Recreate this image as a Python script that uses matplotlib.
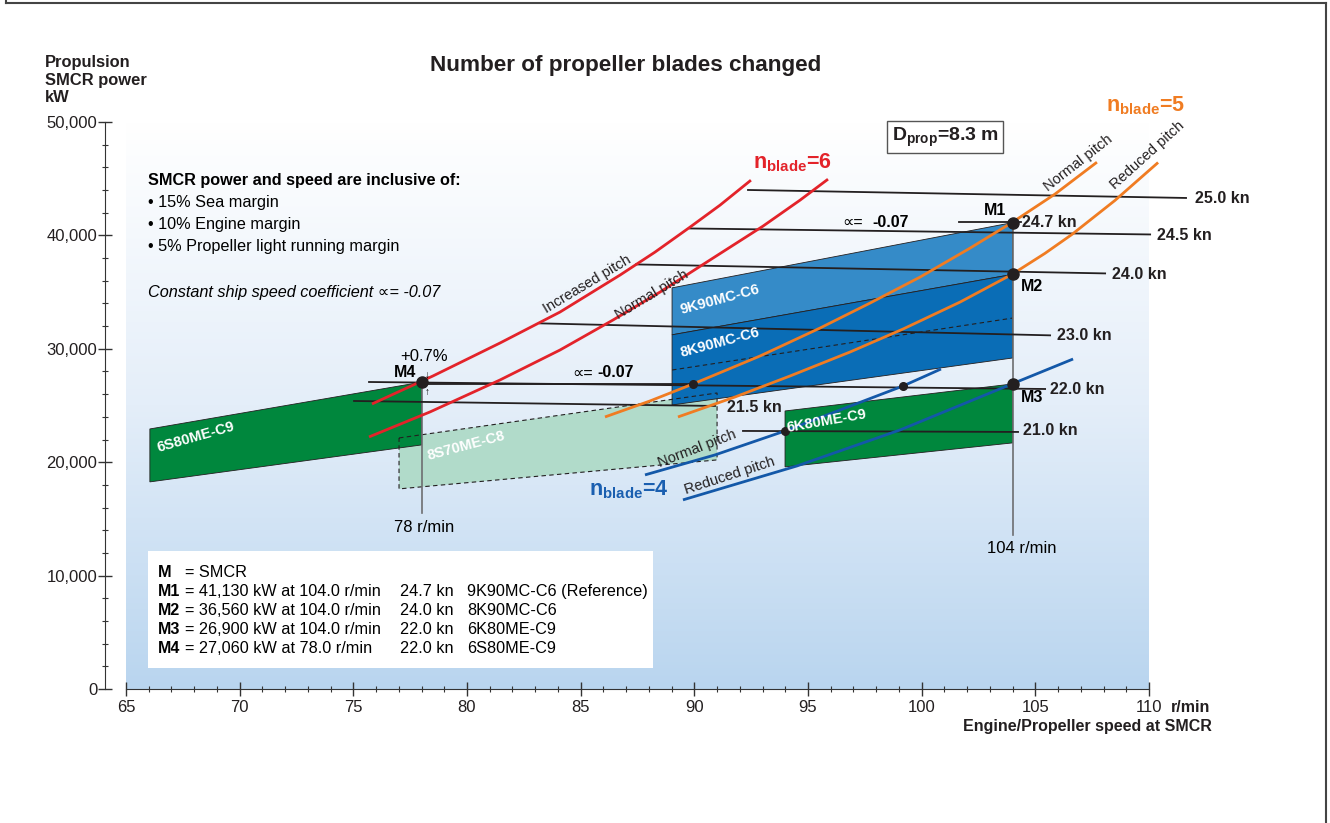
import numpy as np
import matplotlib
matplotlib.use("Agg")
import matplotlib.pyplot as plt
from matplotlib.lines import Line2D
from matplotlib.patches import Polygon
from matplotlib.colors import LinearSegmentedColormap
from matplotlib.ticker import MultipleLocator, FuncFormatter

plt.rcParams["font.family"] = ["Liberation Sans", "DejaVu Sans"]
plt.rcParams["mathtext.fontset"] = "custom"
plt.rcParams["mathtext.rm"] = "Liberation Sans"
plt.rcParams["mathtext.bf"] = "Liberation Sans:bold"
plt.rcParams["mathtext.it"] = "Liberation Sans:italic"

# ---- data (r/min, kW) ----
speed_labels = ["25.0 kn", "24.7 kn", "24.5 kn", "24.0 kn", "23.0 kn", "22.0 kn", "21.5 kn", "21.0 kn"]
speed_x0 = [92.36, 101.64, 89.81, 87.43, 83.21, 75.69, 75.03, 92.14]
speed_x1 = [111.63, 104.35, 110.05, 108.07, 105.65, 105.43, 90.91, 104.24]
speed_p0 = [44006, 41172, 40612, 37441, 32243, 27073, 25399, 22756]
speed_p1 = [43301, 41172, 40083, 36648, 31186, 26456, 24959, 22668]
speed_lab_x = [112.02, 104.41, 110.35, 108.37, 105.95, 105.65, 91.44, 104.46]
speed_lab_p = [43291, 41161, 40017, 36581, 31207, 26450, 24864, 22756]

# reference line at M3 power level (for the +0.7 % mark)
m3_level_x = [78.0, 89.94]
m3_level_p = [26900, 26900]

# n_blade = 6 (red)
red_inc_x = [75.82, 78.50, 81.45, 84.09, 86.73, 88.27, 89.81, 91.13, 92.49]
red_inc_p = [25135, 27602, 30509, 33240, 36500, 38527, 40729, 42667, 44869]
red_nor_x = [75.69, 78.37, 81.45, 84.09, 86.42, 88.49, 90.82, 93.02, 94.65, 95.88]
red_nor_p = [22228, 24430, 27249, 29892, 32536, 35003, 37998, 40817, 43108, 44957]
# n_blade = 5 (orange)
ora_nor_x = [86.07, 88.05, 89.94, 92.89, 95.53, 97.73, 99.93, 102.13, 103.97, 105.86, 107.71]
ora_nor_p = [23990, 25400, 26897, 29364, 31831, 34034, 36324, 38879, 41130, 43637, 46455]
ora_red_x = [89.28, 91.79, 94.21, 96.85, 99.18, 101.69, 103.97, 105.42, 106.61, 108.50, 110.40]
ora_red_p = [23990, 25752, 27602, 29717, 31743, 34122, 36560, 38411, 40085, 43080, 46428]
# n_blade = 4 (blue)
blu_nor_x = [87.83, 90.91, 93.99, 99.18, 100.85]
blu_nor_p = [18880, 20642, 22756, 26721, 28218]
blu_red_x = [89.50, 94.52, 99.05, 103.97, 106.66]
blu_red_p = [16677, 19673, 22844, 26900, 29099]

# engine layout areas
s80_x = [66.05, 78.0, 78.0, 66.05]
s80_p = [22932, 27060, 21523, 18263]
s70_x = [77.01, 91.0, 91.0, 77.01]
s70_p = [22139, 26104, 20202, 17646]
k90_9_x = [89.02, 104.0, 104.0, 89.02]
k90_9_p = [35375, 41130, 36560, 31234]
k90_8_x = [89.02, 104.0, 104.0, 89.02]
k90_8_p = [31234, 36560, 29190, 25047]
k90_dash_x = [89.02, 104.0]
k90_dash_p = [28130, 32711]
k80_x = [93.99, 104.0, 104.0, 93.99]
k80_p = [24518, 26900, 21702, 19588]

# SMCR points
m_names = ["M1", "M2", "M3", "M4"]
m_rpm = [104.0, 104.0, 104.0, 78.0]
m_kw = [41130, 36560, 26900, 27060]
small_dot_x = [89.94, 93.99, 99.18]
small_dot_p = [26897, 22756, 26721]

legend_rows = [
    ("M1", "= 41,130 kW at 104.0 r/min", "24.7 kn", "9K90MC-C6 (Reference)"),
    ("M2", "= 36,560 kW at 104.0 r/min", "24.0 kn", "8K90MC-C6"),
    ("M3", "= 26,900 kW at 104.0 r/min", "22.0 kn", "6K80ME-C9"),
    ("M4", "= 27,060 kW at 78.0 r/min", "22.0 kn", "6S80ME-C9"),
]

RED = "#e3232a"
ORANGE = "#f07c22"
BLUE = "#1358a8"
DGREEN = "#00873d"
LGREEN = "#b1dbca"
BLUE9 = "#358bc8"
BLUE8 = "#0a6db6"
BLK = "#231f20"

W, H = 1330, 823
fig = plt.figure(figsize=(W / 100, H / 100), dpi=100)
ax = fig.add_axes([126 / W, 1 - 689 / H, (1149 - 126) / W, (689 - 122) / H])
ax.set_xlim(65, 110)
ax.set_ylim(0, 50000)

# background gradient
grad = np.linspace(0, 1, 256).reshape(-1, 1)
cmap = LinearSegmentedColormap.from_list("bg", ["#b9d5ef", "#e4eef9", "#ffffff"])
ax.imshow(grad, extent=[65, 110, 0, 50000], origin="lower", aspect="auto",
          cmap=cmap, zorder=0)

# frame around page
for xs, ys in [([6, 6], [0, 3]), ([6, 1326], [3, 3]), ([1326, 1326], [3, H])]:
    fig.add_artist(Line2D([x / W for x in xs], [1 - y / H for y in ys],
                          color="#444444", lw=1.5, transform=fig.transFigure))

# axes styling
for s in ["top", "right"]:
    ax.spines[s].set_visible(False)
ax.spines["left"].set_position(("outward", 15))
ax.spines["left"].set_bounds(0, 50000)
ax.spines["left"].set_color("#333333")
ax.spines["bottom"].set_color("#333333")
ax.xaxis.set_major_locator(MultipleLocator(5))
ax.xaxis.set_minor_locator(MultipleLocator(1))
ax.yaxis.set_major_locator(MultipleLocator(10000))
ax.yaxis.set_minor_locator(MultipleLocator(2000))
ax.yaxis.set_major_formatter(FuncFormatter(lambda v, p: f"{int(v):,}"))
ax.tick_params(which="major", direction="inout", length=9.5, width=1, color="#333333",
               labelsize=12, labelcolor="#231f20")
ax.tick_params(which="minor", direction="inout", length=4.5, width=0.8, color="#333333")
ax.tick_params(axis="x", pad=3)
ax.tick_params(axis="y", pad=1)

# engine areas
ax.add_patch(Polygon(list(zip(s70_x, s70_p)), closed=True, fc=LGREEN, ec="none", zorder=1))
ax.add_patch(Polygon(list(zip(s80_x, s80_p)), closed=True, fc=DGREEN, ec=BLK, lw=0.6, zorder=2))
ax.add_patch(Polygon(list(zip(k90_9_x, k90_9_p)), closed=True, fc=BLUE9, ec=BLK, lw=0.6, zorder=2))
ax.add_patch(Polygon(list(zip(k90_8_x, k90_8_p)), closed=True, fc=BLUE8, ec=BLK, lw=0.6, zorder=2))
ax.add_patch(Polygon(list(zip(k80_x, k80_p)), closed=True, fc=DGREEN, ec=BLK, lw=0.6, zorder=2))
ax.add_patch(Polygon(list(zip(s70_x, s70_p)), closed=True, fc="none", ec=BLK, lw=0.8,
                     ls=(0, (4, 3)), zorder=3))
ax.plot(k90_dash_x, k90_dash_p, color=BLK, lw=0.8, ls=(0, (4, 3)), zorder=3)

# vertical speed marks
ax.plot([78, 78], [15533, 27060], color="#6d6e70", lw=1.2, zorder=3)
ax.plot([104, 104], [13600, 41130], color="#6d6e70", lw=1.2, zorder=3)

# constant ship speed lines
for x0, x1, p0, p1 in zip(speed_x0, speed_x1, speed_p0, speed_p1):
    ax.plot([x0, x1], [p0, p1], color=BLK, lw=1.3, zorder=4, clip_on=False)
ax.plot(m3_level_x, m3_level_p, color=BLK, lw=1.3, zorder=4)
for lab, lx, lp in zip(speed_labels, speed_lab_x, speed_lab_p):
    ax.text(lx, lp, lab, fontsize=11.5, fontweight="bold", color=BLK,
            ha="left", va="center", zorder=7, clip_on=False)

# propeller curves
for xs, ps, c in [(red_inc_x, red_inc_p, RED), (red_nor_x, red_nor_p, RED),
                  (ora_nor_x, ora_nor_p, ORANGE), (ora_red_x, ora_red_p, ORANGE),
                  (blu_nor_x, blu_nor_p, BLUE), (blu_red_x, blu_red_p, BLUE)]:
    ax.plot(xs, ps, color=c, lw=2, zorder=5, clip_on=False,
            solid_capstyle="butt", solid_joinstyle="round")

# points
ax.plot(m_rpm, m_kw, "o", color=BLK, ms=8, zorder=6)
ax.plot(small_dot_x, small_dot_p, "o", color=BLK, ms=5.5, zorder=6)

# curve labels
curve_labels = [
    ("Increased pitch", 85.28, 35681, 31), ("Normal pitch", 88.14, 34800, 31),
    ("Normal pitch", 106.88, 46360, 38), ("Reduced pitch", 109.91, 47065, 42),
    ("Normal pitch", 90.12, 21170, 21), ("Reduced pitch", 91.57, 18791, 18),
]
for t, x, p, r in curve_labels:
    ax.text(x, p, t, fontsize=10.5, color=BLK, rotation=r, rotation_mode="anchor",
            ha="center", va="center", zorder=7, clip_on=False)

engine_labels = [
    ("9K90MC-C6", 91.13, 34300, 15), ("8K90MC-C6", 91.13, 30512, 15),
    ("6S80ME-C9", 68.08, 22230, 16), ("8S70ME-C8", 79.96, 21437, 15),
    ("6K80ME-C9", 95.84, 23640, 10),
]
for t, x, p, r in engine_labels:
    ax.text(x, p, t, fontsize=10.5, fontweight="bold", color="white", rotation=r,
            rotation_mode="anchor", ha="center", va="center", zorder=7)

# M labels
ax.text(103.23, 42232, "M1", fontsize=11.5, fontweight="bold", ha="center", va="center", zorder=7)
ax.text(104.35, 35530, "M2", fontsize=11.5, fontweight="bold", ha="left", va="center", zorder=7)
ax.text(104.35, 25663, "M3", fontsize=11.5, fontweight="bold", ha="left", va="center", zorder=7)
ax.text(77.76, 27954, "M4", fontsize=11.5, fontweight="bold", ha="right", va="center", zorder=7)
ax.text(78.1, 29290, "+0.7%", fontsize=12, ha="center", va="center", zorder=7)
ax.text(78.25, 27720, "\u2193", fontsize=7, ha="center", va="center", zorder=7)
ax.text(78.25, 26150, "\u2191", fontsize=7, ha="center", va="center", zorder=7)
ax.text(78.1, 14210, "78 r/min", fontsize=12, ha="center", va="center", zorder=7)
ax.text(104.41, 12360, "104 r/min", fontsize=12, ha="center", va="center", zorder=7)

# alpha labels
for xa, xb, p in [(96.5, 97.82, 41172), (84.62, 85.72, 27866)]:
    ax.text(xa, p, "\u221d=", fontsize=11.5, ha="left", va="center", zorder=7)
    ax.text(xb, p, "-0.07", fontsize=11.5, fontweight="bold", ha="left", va="center", zorder=7)

# n_blade labels
ax.text(94.30, 46445, r"$\mathbf{n_{blade}}$=6", fontsize=15.5, fontweight="bold",
        color=RED, ha="center", va="center", zorder=7, clip_on=False)
ax.text(109.83, 51469, r"$\mathbf{n_{blade}}$=5", fontsize=15.5, fontweight="bold",
        color=ORANGE, ha="center", va="center", zorder=7, clip_on=False)
ax.text(87.13, 17558, r"$\mathbf{n_{blade}}$=4", fontsize=15.5, fontweight="bold",
        color="#1a5fb0", ha="center", va="center", zorder=7, clip_on=False)
ax.text(101.03, 48647, r"$\mathbf{D_{prop}}$=8.3 m", fontsize=14, fontweight="bold",
        color=BLK, ha="center", va="center", zorder=7, clip_on=False,
        bbox=dict(boxstyle="square,pad=0.22", fc="white", ec="#555555", lw=1))

# notes
ax.text(65.97, 44868, "SMCR power and speed are inclusive of:", fontsize=11.7,
        fontweight="bold", ha="left", va="center", zorder=7)
for i, t in enumerate(["\u2022 15% Sea margin", "\u2022 10% Engine margin",
                       "\u2022 5% Propeller light running margin"]):
    ax.text(65.97, 42930 - i * 1938, t, fontsize=11.7, ha="left", va="center", zorder=7)
ax.text(65.97, 35000, "Constant ship speed coefficient \u221d= -0.07", fontsize=11.7,
        style="italic", ha="left", va="center", zorder=7)

# legend box
ax.add_patch(plt.Rectangle((65.97, 1867), 88.18 - 65.97, 12187 - 1867, fc="white",
                           ec="none", zorder=6))
row_p = [10247, 8573, 6899, 5225, 3551]
ax.text(66.41, row_p[0], "M", fontsize=11.7, fontweight="bold", ha="left", va="center", zorder=7)
ax.text(67.58, row_p[0], "= SMCR", fontsize=11.7, ha="left", va="center", zorder=7)
for (nm, desc, kn, eng), p in zip(legend_rows, row_p[1:]):
    ax.text(66.41, p, nm, fontsize=11.5, fontweight="bold", ha="left", va="center", zorder=7)
    ax.text(67.58, p, desc, fontsize=11.7, ha="left", va="center", zorder=7)
    ax.text(77.05, p, kn, fontsize=11.7, ha="left", va="center", zorder=7)
    ax.text(80.0, p, eng, fontsize=11.7, ha="left", va="center", zorder=7)

# titles and axis captions
fig.text(626 / W, 1 - 65 / H, "Number of propeller blades changed", fontsize=16.2,
         fontweight="bold", ha="center", va="center", color=BLK)
fig.text(45 / W, 1 - 55 / H, "Propulsion\nSMCR power\nkW", fontsize=11.9,
         fontweight="bold", ha="left", va="top", linespacing=1.22, color=BLK)
fig.text(1171 / W, 1 - 707 / H, "r/min", fontsize=11.5, fontweight="bold",
         ha="left", va="center", color=BLK)
fig.text(1212 / W, 1 - 727 / H, "Engine/Propeller speed at SMCR", fontsize=11.5,
         fontweight="bold", ha="right", va="center", color=BLK)

fig.savefig("out.png", dpi=100)
